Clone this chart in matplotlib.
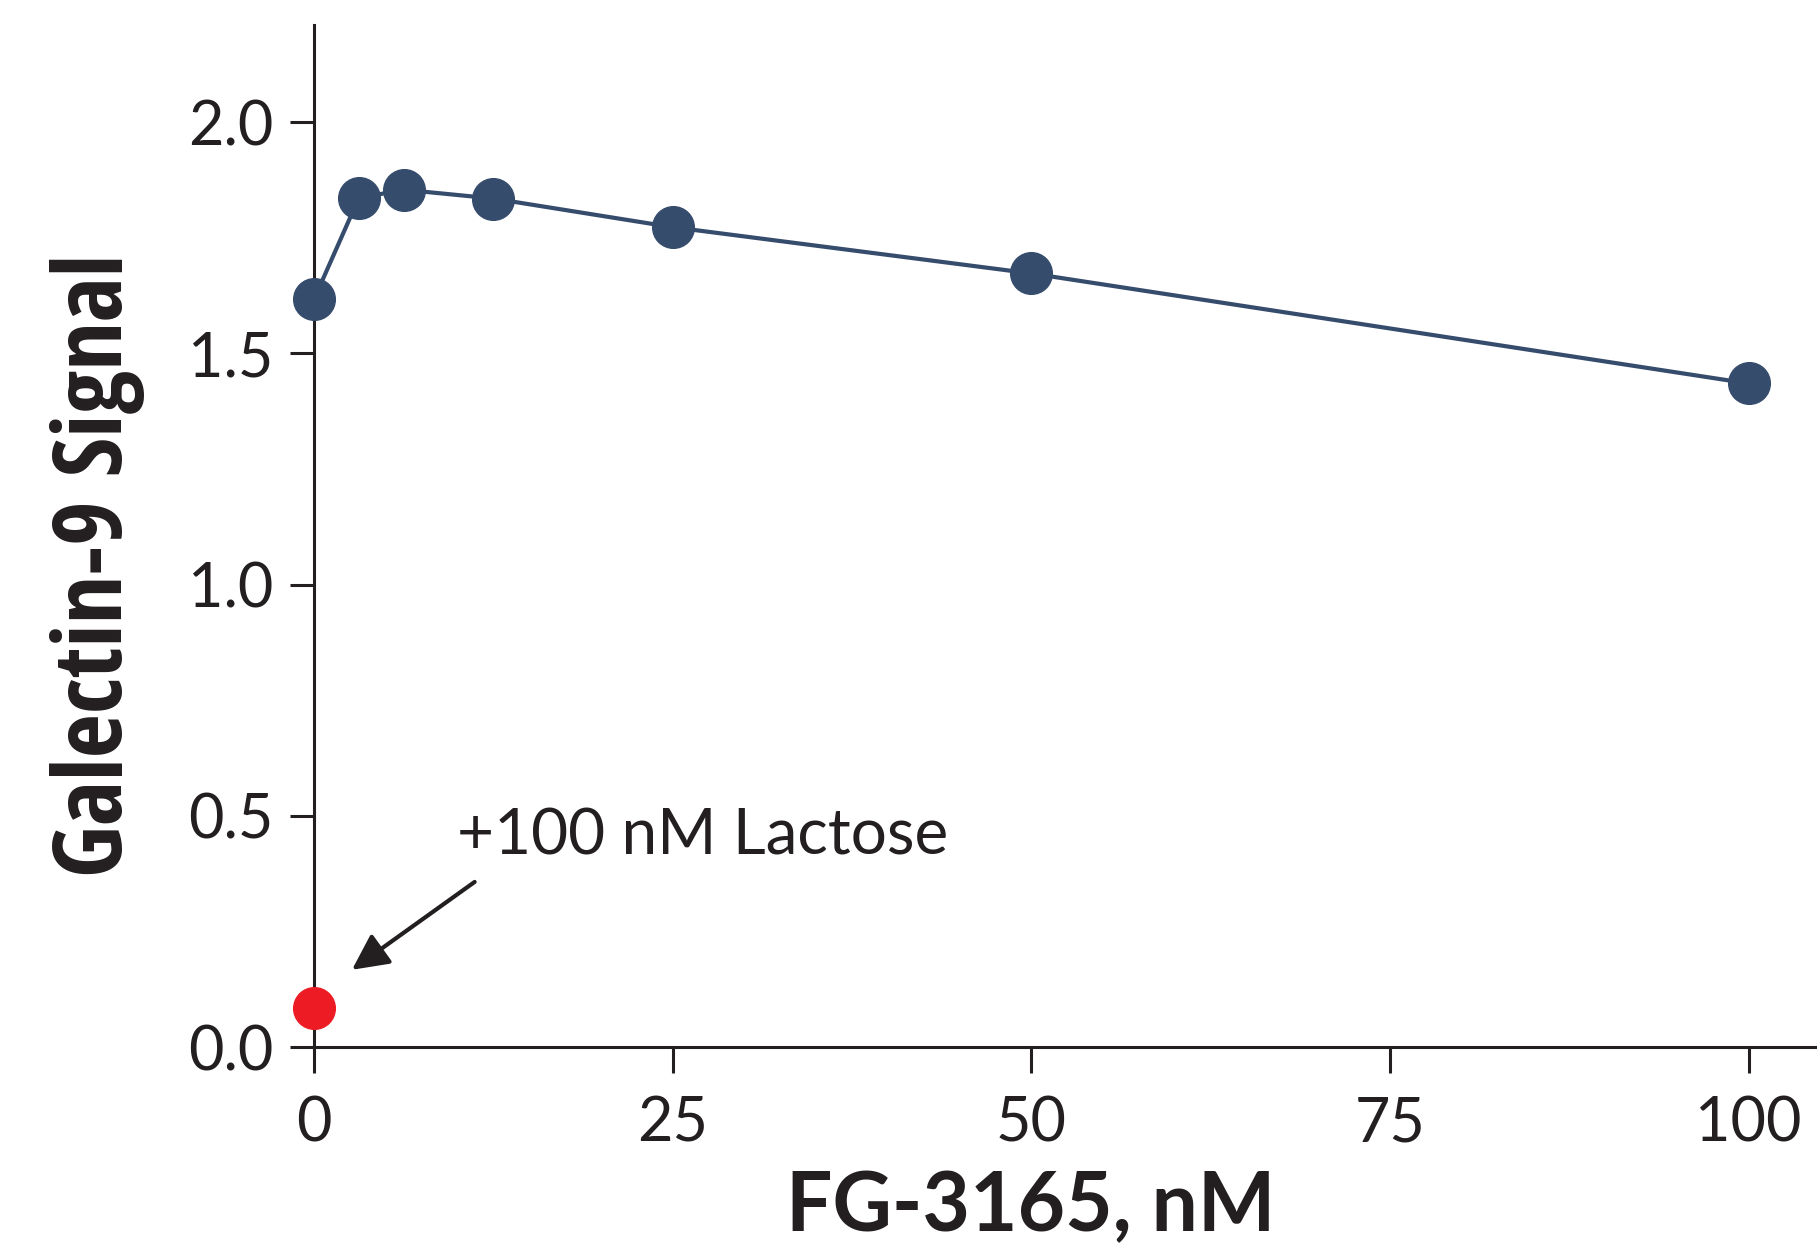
import matplotlib.pyplot as plt

# data
conc = [0, 3.125, 6.25, 12.5, 25, 50, 100]
signal = [1.617, 1.836, 1.854, 1.835, 1.773, 1.673, 1.435]
lactose_x = [0]
lactose_y = [0.085]
xticks = [0, 25, 50, 75, 100]
yticks = [0.0, 0.5, 1.0, 1.5, 2.0]

ink = '#231f20'
navy = '#364c6c'
red = '#ed1c24'

fig = plt.figure(figsize=(18.17, 12.56), dpi=100)
ax = fig.add_axes([0.1728, 0.1664, 0.8272, 0.8136])

ax.plot(conc, signal, color=navy, lw=3, marker='o', ms=30, mfc=navy, mec=navy, clip_on=False, zorder=3)
ax.plot(lactose_x, lactose_y, 'o', color=red, ms=30, clip_on=False, zorder=3)

ax.set_xlim(0, 104.77)
ax.set_ylim(0, 2.21)
ax.set_xticks(xticks)
ax.set_yticks(yticks)
ax.set_xticklabels([str(t) for t in xticks])
ax.set_yticklabels(['%.1f' % t for t in yticks])

for s in ['top', 'right']:
    ax.spines[s].set_visible(False)
for s in ['left', 'bottom']:
    ax.spines[s].set_linewidth(2.2)
    ax.spines[s].set_color(ink)

ax.tick_params(axis='x', length=19, width=2.2, color=ink, pad=16, labelsize=44, labelcolor=ink)
ax.tick_params(axis='y', length=17, width=2.2, color=ink, pad=12, labelsize=44, labelcolor=ink)
for lab in ax.get_xticklabels() + ax.get_yticklabels():
    lab.set_family('Lato')

ax.set_ylabel('Galectin-9 Signal', fontsize=69, fontweight='bold',
              family=['Open Sans Condensed', 'PT Sans Narrow', 'DejaVu Sans'], color=ink, va='center')
ax.yaxis.set_label_coords(-0.1437, 0.4716)
ax.set_xlabel('FG-3165, nM', fontsize=59, fontweight='bold', family='Lato', color=ink, va='center')
ax.xaxis.set_label_coords(0.477, -0.157)

ax.text(10.0, 0.456, '+100 nM Lactose', fontsize=46, family='Lato', color=ink, va='center', ha='left')
ax.annotate('', xy=(2.65, 0.167), xytext=(11.2, 0.357),
            arrowprops=dict(arrowstyle='-|>', color=ink, lw=3, mutation_scale=55, shrinkA=0, shrinkB=0))

fig.savefig('out.png', dpi=100)
